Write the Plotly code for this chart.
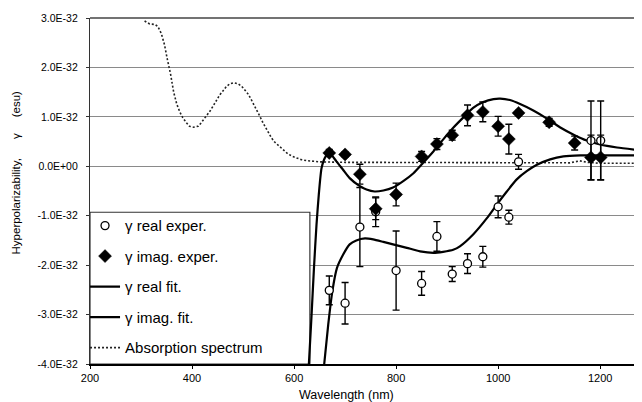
import plotly.graph_objects as go

# ---- data (values in units of 1E-32 esu) ----
exp_real_nm = [669, 700, 729, 760, 800, 850, 880, 910, 940, 970, 1000, 1021, 1040, 1182, 1201]
exp_real_val = [-2.51, -2.77, -1.23, -0.92, -2.11, -2.37, -1.42, -2.18, -1.97, -1.83, -0.82, -1.03, 0.09, 0.52, 0.52]
exp_real_err = [0.29, 0.42, 0.80, 0.30, 0.80, 0.24, 0.30, 0.15, 0.20, 0.21, 0.22, 0.14, 0.15, 0.80, 0.80]

exp_imag_nm = [669, 700, 729, 760, 800, 850, 880, 910, 940, 970, 1000, 1021, 1040, 1100, 1150, 1182, 1201]
exp_imag_val = [0.27, 0.24, -0.16, -0.86, -0.57, 0.20, 0.45, 0.63, 1.03, 1.10, 0.81, 0.55, 1.08, 0.89, 0.47, 0.18, 0.18]
exp_imag_err = [0.07, 0.05, 0.20, 0.22, 0.23, 0.10, 0.11, 0.10, 0.21, 0.20, 0.20, 0.30, 0.05, 0.08, 0.14, 0.45, 0.45]

fit_real_nm = [659, 667, 675, 684, 696, 709, 722, 739, 755, 775, 794, 821, 847, 873, 892, 912,
               925, 951, 978, 997, 1017, 1036, 1056, 1076, 1102, 1128, 1161, 1193, 1233, 1282]
fit_real_val = [-4.01, -3.2, -2.53, -2.06, -1.79, -1.58, -1.50, -1.46, -1.48, -1.53, -1.58, -1.65, -1.72, -1.75, -1.73, -1.69,
                -1.62, -1.38, -1.05, -0.78, -0.51, -0.27, -0.10, 0.03, 0.14, 0.20, 0.22, 0.22, 0.22, 0.22]

fit_imag_nm = [629, 634, 639, 644, 648.5, 654, 662, 669, 683, 696, 709, 726, 742, 758, 775, 794, 814, 834,
               853, 873, 892, 912, 932, 951, 971, 991, 1004, 1023, 1043, 1069, 1095, 1121, 1148, 1174, 1200, 1233, 1282]
fit_imag_val = [-4.01, -3.07, -2.06, -1.18, -0.57, -0.03, 0.20, 0.27, 0.10, -0.07, -0.24, -0.38, -0.47, -0.51, -0.49, -0.43, -0.30, -0.14,
                0.07, 0.30, 0.54, 0.78, 0.99, 1.18, 1.30, 1.36, 1.37, 1.34, 1.26, 1.13, 0.97, 0.79, 0.64, 0.52, 0.44, 0.38, 0.32]

abs_nm = [307, 317, 327, 333, 340, 346, 351.5, 358, 364, 370, 376, 382, 389, 395, 403, 412, 418, 425, 430, 436,
          442, 448, 454, 461, 467, 474, 482, 490, 497, 503, 510, 515, 521, 526, 533, 539, 544, 550, 556, 562,
          569, 575, 582, 588, 597, 605, 614, 624, 637, 650, 700, 800, 900, 1000, 1100, 1140, 1160, 1175, 1200, 1282]
abs_val = [2.94, 2.88, 2.87, 2.83, 2.68, 2.46, 2.17, 1.86, 1.50, 1.26, 1.10, 0.98, 0.88, 0.81, 0.79, 0.81, 0.88, 0.97, 1.05, 1.13,
           1.23, 1.34, 1.44, 1.53, 1.61, 1.67, 1.69, 1.67, 1.62, 1.55, 1.46, 1.37, 1.26, 1.14, 1.01, 0.88, 0.78, 0.67, 0.57, 0.49,
           0.42, 0.36, 0.30, 0.25, 0.20, 0.17, 0.135, 0.115, 0.10, 0.09, 0.08, 0.075, 0.07, 0.07, 0.065, 0.07, 0.11, 0.08, 0.06, 0.06]

y_tickvals = [3, 2, 1, 0, -1, -2, -3, -4]
y_ticktext = ["3.0E-32", "2.0E-32", "1.0E-32", "0.0E+00", "-1.0E-32", "-2.0E-32", "-3.0E-32", "-4.0E-32"]
x_tickvals = [200, 400, 600, 800, 1000, 1200]

FONT = "Liberation Sans, Arial, sans-serif"

fig = go.Figure()

fig.add_trace(go.Scatter(
    x=abs_nm, y=abs_val, mode="lines", name="Absorption spectrum",
    line=dict(color="#222222", width=1.6, dash="2px,2px"),
    legendrank=5, legendgroup="e"))

fig.add_trace(go.Scatter(
    x=fit_real_nm, y=fit_real_val, mode="lines", name="γ real fit.",
    line=dict(color="black", width=2.2, shape="spline", smoothing=0.6),
    legendrank=3, legendgroup="c"))

fig.add_trace(go.Scatter(
    x=fit_imag_nm, y=fit_imag_val, mode="lines", name="γ imag. fit.",
    line=dict(color="black", width=2.2, shape="spline", smoothing=0.6),
    legendrank=4, legendgroup="d"))

fig.add_trace(go.Scatter(
    x=exp_real_nm, y=exp_real_val, mode="markers", name="γ real exper.",
    marker=dict(symbol="circle", size=8, color="white", line=dict(color="black", width=1.3)),
    error_y=dict(type="data", array=exp_real_err, visible=True, color="black", thickness=1.4, width=3.5),
    legendrank=1, legendgroup="a"))

fig.add_trace(go.Scatter(
    x=exp_imag_nm, y=exp_imag_val, mode="markers", name="γ imag. exper.",
    marker=dict(symbol="diamond", size=10, color="black", line=dict(color="black", width=0.5)),
    error_y=dict(type="data", array=exp_imag_err, visible=True, color="black", thickness=1.4, width=3.5),
    legendrank=2, legendgroup="b"))

# white legend box drawn above the grid lines, below traces
fig.add_shape(type="rect", xref="x", yref="y", x0=200, x1=631, y0=-4, y1=-0.93,
              fillcolor="white", line=dict(color="#333333", width=1.2), layer="between")
# darker top border line of the plot
fig.add_shape(type="line", xref="paper", yref="paper", x0=0, x1=1, y0=1, y1=1,
              line=dict(color="#444444", width=1.3), layer="between")

# the page has an 8px body margin, so the figure is sized/shifted to compensate
fig.update_layout(
    width=634, height=394,
    margin=dict(l=82, r=0, t=10, b=38),
    paper_bgcolor="white", plot_bgcolor="white",
    font=dict(family=FONT, color="black", size=11),
    showlegend=True,
    legend=dict(x=-0.009, xanchor="left", y=0.447, yanchor="top",
                bgcolor="rgba(0,0,0,0)", borderwidth=0,
                font=dict(size=15, family=FONT, color="black"),
                tracegroupgap=8, traceorder="grouped"),
    xaxis=dict(range=[200, 1282], tickvals=x_tickvals, ticks="outside", ticklen=3,
               tickcolor="black", showgrid=False, zeroline=False,
               showline=True, linecolor="black", linewidth=1.5,
               tickfont=dict(size=11)),
    yaxis=dict(range=[-4, 3], tickvals=y_tickvals, ticktext=y_ticktext, ticks="outside", ticklen=3,
               tickcolor="#333333", showgrid=True, gridcolor="#8a8a8a", gridwidth=1,
               zeroline=False, showline=True, linecolor="#333333", linewidth=1.2,
               tickfont=dict(size=10.5), ticklabelstandoff=6),
    annotations=[
        dict(text="Wavelength (nm)", xref="paper", yref="paper", x=0.464, y=-0.09,
             xanchor="center", yanchor="middle", showarrow=False, font=dict(size=12.5)),
        dict(text="Hyperpolarizability,\u00a0\u00a0\u00a0\u00a0\u00a0\u00a0γ\u00a0\u00a0\u00a0\u00a0\u00a0(esu)",
             xref="paper", yref="paper", x=-0.135, y=0.555, xanchor="center", yanchor="middle",
             textangle=-90, showarrow=False, font=dict(size=11.5)),
    ],
)

fig.write_html("out.html")
